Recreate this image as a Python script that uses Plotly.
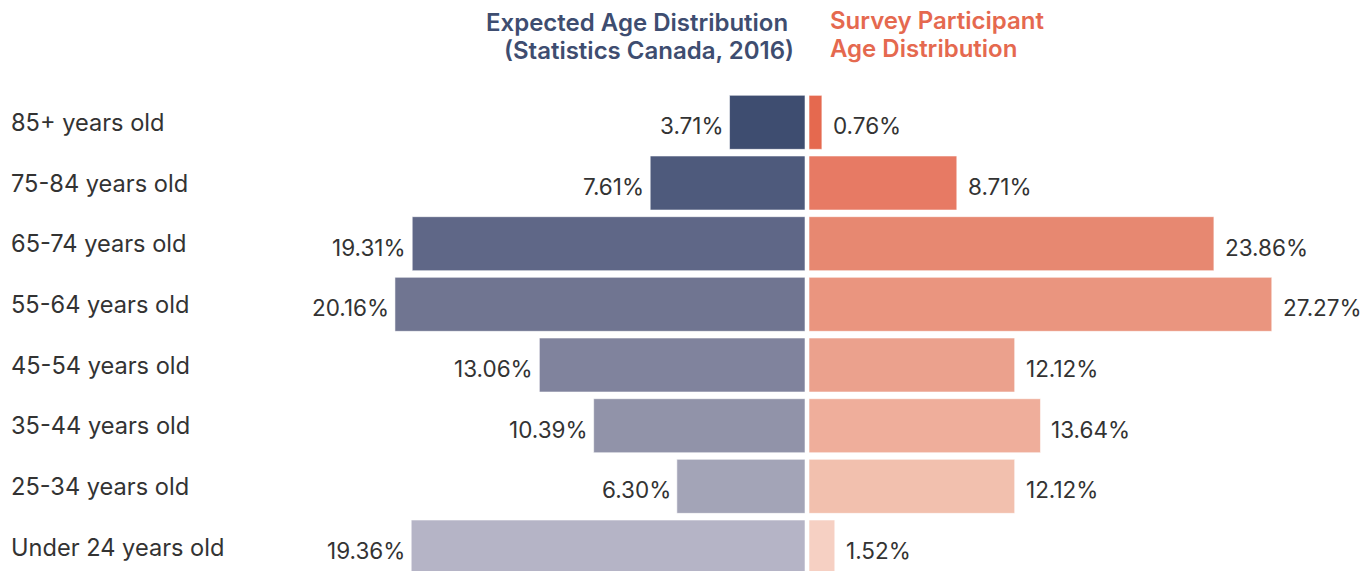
import plotly.graph_objects as go

categories = ["Under 24 years old", "25-34 years old", "35-44 years old", "45-54 years old",
              "55-64 years old", "65-74 years old", "75-84 years old", "85+ years old"]
expected = [19.36, 6.30, 10.39, 13.06, 20.16, 19.31, 7.61, 3.71]
survey = [1.52, 12.12, 13.64, 12.12, 27.27, 23.86, 8.71, 0.76]
left_colors = ["#b5b4c6", "#a3a4b7", "#9193a9", "#80839d", "#707591", "#5f6787", "#4e5a7c", "#3e4d70"]
right_colors = ["#f6d0c3", "#f2c0ae", "#efae9b", "#eba18d", "#ea957f", "#e78871", "#e77a64", "#e5694f"]
title_left = ["Expected Age Distribution", "(Statistics Canada, 2016)"]
title_right = ["Survey Participant", "Age Distribution"]

W, H = 1371, 571
OFF = 8  # page body margin offset
FONT = "Inter"
TXT = "#333333"

left_start, zero_l, zero_r = 300 - OFF, 805 - OFF, 809 - OFF
scale_l, scale_r = 20.34, 16.97
top_px = 92 - OFF
pitch = 60.67
plot_h = H - top_px
ylo = 7.5 - plot_h / pitch


def py(screen_y):
    return 1 + (top_px - (screen_y - OFF)) / plot_h


fig = go.Figure()
fig.add_trace(go.Bar(y=categories, x=expected, orientation="h", xaxis="x", yaxis="y",
                     marker=dict(color=left_colors, line=dict(color="rgba(255,255,255,0.55)", width=1)),
                     hoverinfo="skip"))
fig.add_trace(go.Bar(y=categories, x=survey, orientation="h", xaxis="x2", yaxis="y2",
                     marker=dict(color=right_colors, line=dict(color="rgba(255,255,255,0.55)", width=1)),
                     hoverinfo="skip"))

annotations = []
for c, v in zip(categories, expected):
    annotations.append(dict(x=v, y=c, xref="x", yref="y", text=f"{v:.2f}%", showarrow=False,
                            xanchor="right", xshift=-4, yshift=-3.5, font=dict(family=FONT, size=22.5, color=TXT)))
for c, v in zip(categories, survey):
    annotations.append(dict(x=v, y=c, xref="x2", yref="y2", text=f"{v:.2f}%", showarrow=False,
                            xanchor="left", xshift=9, yshift=-3.5, font=dict(family=FONT, size=22.5, color=TXT)))
for c in categories:
    annotations.append(dict(x=(9 - OFF) / W, y=c, xref="paper", yref="y", text=c, showarrow=False,
                            xanchor="left", yshift=0, font=dict(family=FONT, size=23.6, color=TXT)))

tfont_l = dict(family=FONT, size=24, color="#3e4d70", weight=600)
tfont_r = dict(family=FONT, size=24, color="#e5694f", weight=600)
annotations.append(dict(x=(790 - OFF) / W, y=py(23), xref="paper", yref="paper", yanchor="middle",
                        xanchor="right", text=title_left[0], showarrow=False, font=tfont_l))
annotations.append(dict(x=(796 - OFF) / W, y=py(51), xref="paper", yref="paper", yanchor="middle",
                        xanchor="right", text=title_left[1], showarrow=False, font=tfont_l))
annotations.append(dict(x=(828 - OFF) / W, y=py(20), xref="paper", yref="paper", yanchor="middle",
                        xanchor="left", text=title_right[0], showarrow=False, font=tfont_r))
annotations.append(dict(x=(828 - OFF) / W, y=py(48), xref="paper", yref="paper", yanchor="middle",
                        xanchor="left", text=title_right[1], showarrow=False, font=tfont_r))

fig.update_layout(
    width=W, height=H,
    margin=dict(l=0, r=0, t=top_px, b=0),
    paper_bgcolor="white", plot_bgcolor="white",
    showlegend=False, bargap=0.11,
    xaxis=dict(domain=[left_start / W, zero_l / W], range=[(zero_l - left_start) / scale_l, 0],
               visible=False, fixedrange=True),
    xaxis2=dict(domain=[zero_r / W, 1], range=[0, (W - zero_r) / scale_r], visible=False, fixedrange=True),
    yaxis=dict(domain=[0, 1], range=[ylo, 7.5], visible=False, categoryorder="array",
               categoryarray=categories, anchor="x"),
    yaxis2=dict(domain=[0, 1], range=[ylo, 7.5], visible=False, categoryorder="array",
                categoryarray=categories, anchor="x2"),
    annotations=annotations,
    font=dict(family=FONT),
)

fig.write_html("out.html")
